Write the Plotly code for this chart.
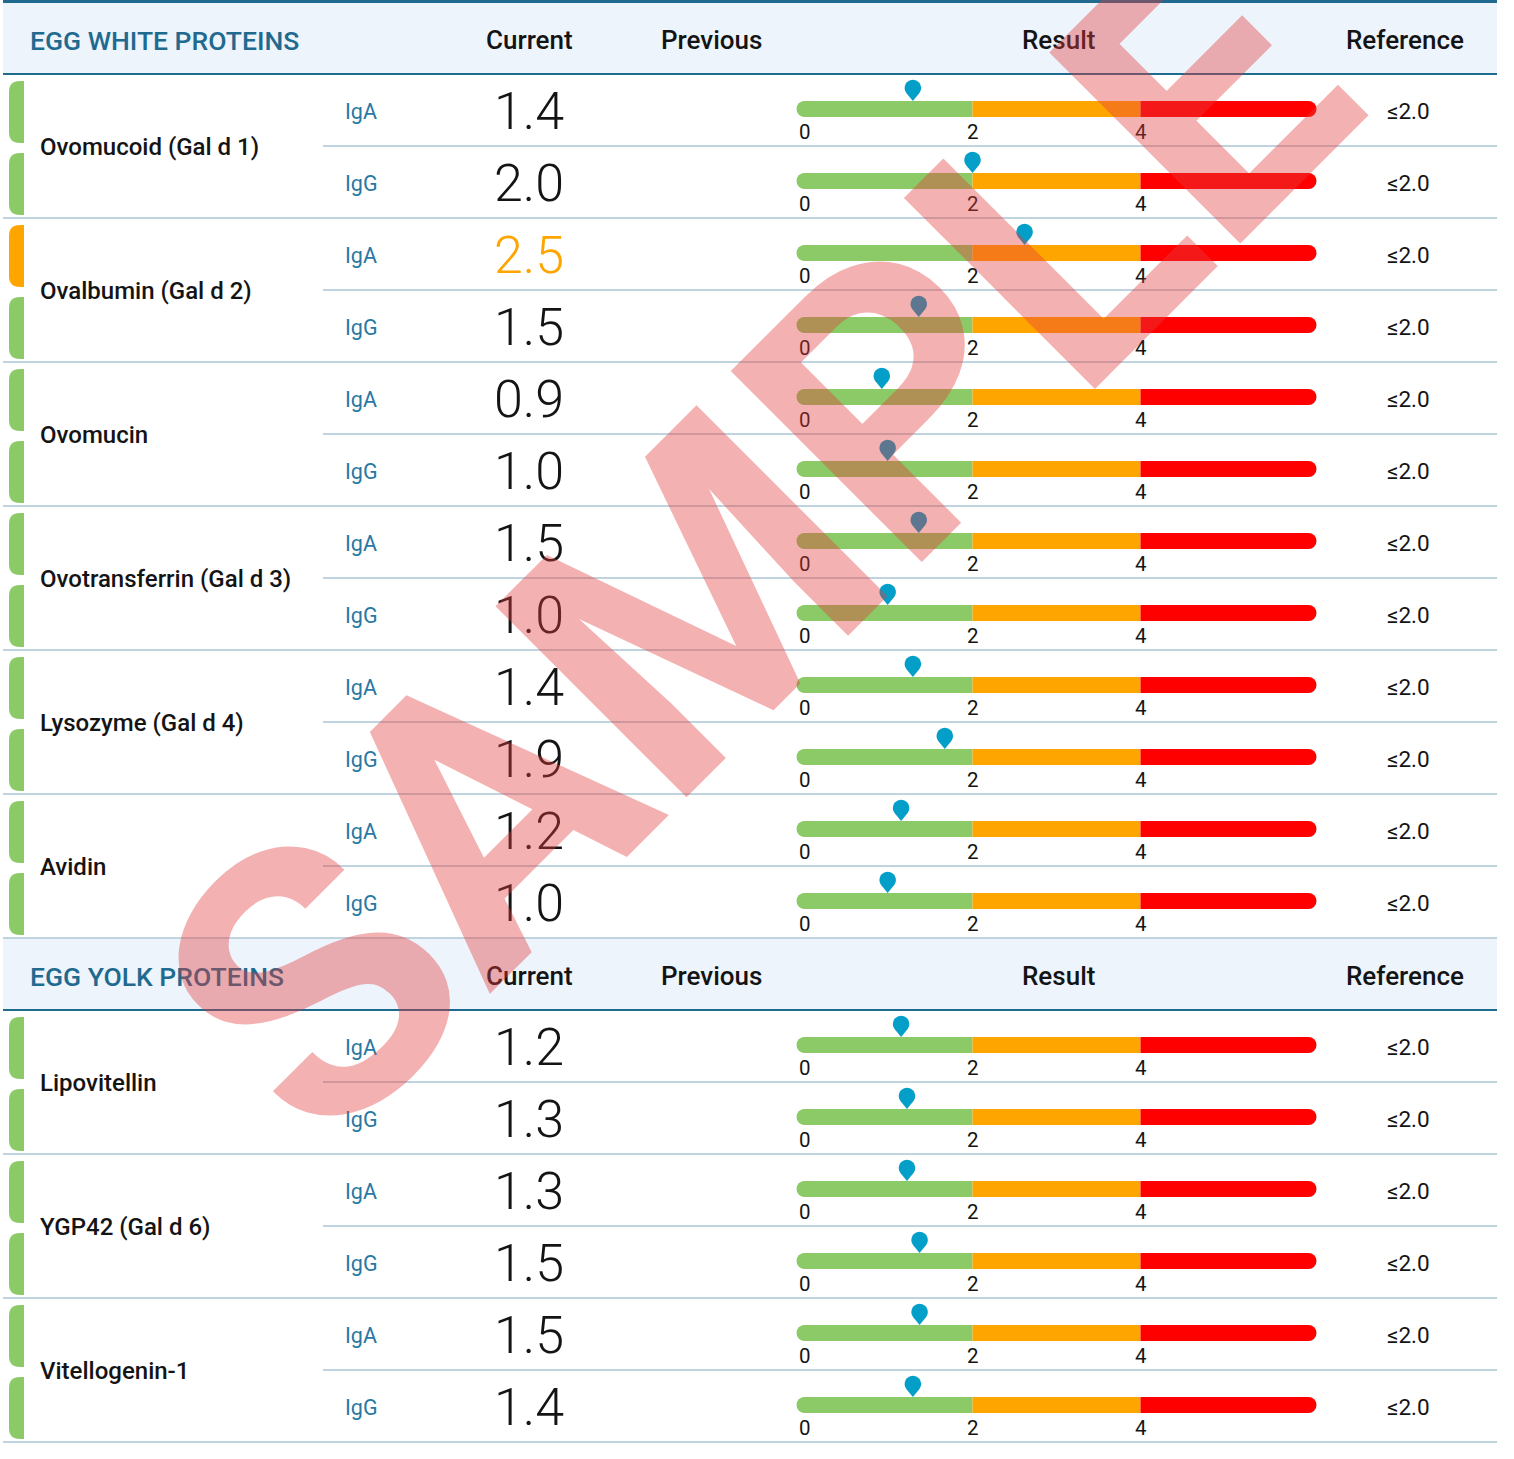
import math
import plotly.graph_objects as go

W, H = 1514, 1459

# ---------------- data ----------------
section_titles = ["EGG WHITE PROTEINS", "EGG YOLK PROTEINS"]
column_titles = ["Current", "Previous", "Result", "Reference"]
isotypes = ["IgA", "IgG"]

white_allergens = ["Ovomucoid (Gal d 1)", "Ovalbumin (Gal d 2)", "Ovomucin",
                   "Ovotransferrin (Gal d 3)", "Lysozyme (Gal d 4)", "Avidin"]
white_current = [1.4, 2.0, 2.5, 1.5, 0.9, 1.0, 1.5, 1.0, 1.4, 1.9, 1.2, 1.0]
white_marker = [1.29, 2.0, 2.62, 1.36, 0.92, 0.99, 1.36, 0.99, 1.29, 1.67, 1.15, 0.99]

yolk_allergens = ["Lipovitellin", "YGP42 (Gal d 6)", "Vitellogenin-1"]
yolk_current = [1.2, 1.3, 1.3, 1.5, 1.5, 1.4]
yolk_marker = [1.15, 1.22, 1.22, 1.37, 1.37, 1.29]

reference_limit = 2.0
band_edges = [0, 2, 4, 6]
scale_ticks = [0, 2, 4]

# ---------------- style ----------------
FONT = "Roboto"
TEAL = "#1f6a8e"
ISO_C = "#2a78a3"
HEADER_BG = "#edf4fc"
SEP = "#c0d4e0"
BAND_COLORS = ["#8cc967", "#ffa500", "#ff0000"]
PIN = "#049fc8"
GREEN = "#8cc967"
ORANGE = "#ffa500"
X_LEFT, X_RIGHT = 3, 1497
PX0, PXU = 804.5, 84.0          # pixel of result 0 and pixels per unit
ROW_H = 72
HDR_H = 70

shapes = []
annotations = []


def txt(x, y, text, size, color="#141414", weight=400, anchor="center", xref="x"):
    annotations.append(dict(x=x, y=y, xref=xref, yref="y", text=text, showarrow=False,
                            xanchor=anchor, yanchor="middle",
                            font=dict(family=FONT, size=size, color=color, weight=weight)))


def hline(y, x0, x1, color, width):
    shapes.append(dict(type="line", xref="x", yref="y", x0=x0, x1=x1, y0=y, y1=y,
                       line=dict(color=color, width=width), layer="below"))


# top dark line
shapes.append(dict(type="rect", xref="x", yref="y", x0=X_LEFT, x1=X_RIGHT, y0=0, y1=3,
                   fillcolor=TEAL, line=dict(width=0), layer="below"))

sections = [
    (section_titles[0], white_allergens, white_current, white_marker, 3),
    (section_titles[1], yolk_allergens, yolk_current, yolk_marker, 939),
]

col_x = [529, 711, 1058, 1405]

# teardrop pin polygon (pixel offsets relative to tip; y positive = up)
R_PIN, D_PIN = 8.2, 13.0
ty = R_PIN * R_PIN / D_PIN
tx = math.sqrt(R_PIN * R_PIN - ty * ty)
a0 = math.atan2(-ty, tx)
pts = ["M 0 0", f"L {tx:.2f} {D_PIN - ty:.2f}"]
n = 28
for k in range(1, n):
    ang = a0 + (math.pi - 2 * a0) * k / n
    pts.append(f"L {R_PIN*math.cos(ang):.2f} {D_PIN + R_PIN*math.sin(ang):.2f}")
pts.append(f"L {-tx:.2f} {D_PIN - ty:.2f} Z")
PIN_PATH = " ".join(pts)

pin_x, pin_y = [], []

for title, allergens, current, marker, htop in sections:
    # header
    shapes.append(dict(type="rect", xref="x", yref="y", x0=X_LEFT, x1=X_RIGHT, y0=htop,
                       y1=htop + HDR_H, fillcolor=HEADER_BG, line=dict(width=0), layer="below"))
    hline(htop + HDR_H + 1, X_LEFT, X_RIGHT, TEAL, 2)
    txt(28, htop + 37, title, 26.5, TEAL, 500, "left")
    for cx, ct in zip(col_x, column_titles):
        txt(cx, htop + 37, ct, 26, "#141414", 500)

    rows_top = htop + HDR_H + 2
    for gi, name in enumerate(allergens):
        gtop = rows_top + gi * 2 * ROW_H
        txt(38, gtop + ROW_H, name, 24, "#141414", 500, "left")
        for k, iso in enumerate(isotypes):
            idx = gi * 2 + k
            top = gtop + k * ROW_H
            val = current[idx]
            status = ORANGE if val > reference_limit else GREEN
            # status tab
            y0, y1, r = top + 6, top + 68, 11
            shapes.append(dict(type="path", xref="x", yref="y",
                               path=(f"M 24 {y0} L {9+r} {y0} Q 9 {y0} 9 {y0+r} "
                                     f"L 9 {y1-r} Q 9 {y1} {9+r} {y1} L 24 {y1} Z"),
                               fillcolor=status, line=dict(width=0), layer="below"))
            # separator
            hline(top + ROW_H - 1, X_LEFT if k == 1 else 323, X_RIGHT, SEP, 2)
            # texts
            txt(343, top + 36, iso, 21.5, ISO_C, 400, "left")
            txt(col_x[0], top + 36, f"{val:.1f}", 52,
                ORANGE if val > reference_limit else "#141414", 300)
            txt(1408, top + 36, f"\u2264{reference_limit:.1f}", 22.5, "#141414", 400)
            # result bar
            bt, bb = top + 26, top + 42
            bc = (bt + bb) / 2
            for j in range(3):
                shapes.append(dict(type="rect", xref="x2", yref="y", x0=band_edges[j],
                                   x1=band_edges[j + 1], y0=bt, y1=bb,
                                   fillcolor=BAND_COLORS[j], line=dict(width=0), layer="below"))
            for ex, col in ((band_edges[0], BAND_COLORS[0]), (band_edges[-1], BAND_COLORS[-1])):
                shapes.append(dict(type="circle", xref="x2", yref="y", xsizemode="pixel",
                                   ysizemode="pixel", xanchor=ex, yanchor=bc,
                                   x0=-8, x1=8, y0=-8, y1=8,
                                   fillcolor=col, line=dict(width=0), layer="below"))
            for t in scale_ticks:
                annotations.append(dict(x=t, y=top + 57, xref="x2", yref="y", text=str(t),
                                        showarrow=False, xanchor="center", yanchor="middle",
                                        font=dict(family=FONT, size=20.5, color="#141414")))
            # pin
            shapes.append(dict(type="path", xref="x2", yref="y", xsizemode="pixel",
                               ysizemode="pixel", xanchor=marker[idx], yanchor=bt,
                               path=PIN_PATH, fillcolor=PIN, line=dict(width=0),
                               layer="above"))
            pin_x.append(marker[idx])
            pin_y.append(bt - 12)

# watermark
annotations.append(dict(x=757, y=543, xref="x", yref="y", text="SAMPLE", showarrow=False,
                        xanchor="center", yanchor="middle", textangle=-45,
                        font=dict(family=FONT, size=380, color="rgba(228,60,60,0.4)",
                                  weight=700)))

fig = go.Figure()
fig.add_trace(go.Scatter(x=pin_x, y=pin_y, xaxis="x2", yaxis="y", mode="markers",
                         marker=dict(size=14, color="rgba(0,0,0,0)"), hoverinfo="x",
                         showlegend=False))

fig.update_layout(
    width=W, height=H, margin=dict(l=0, r=0, t=0, b=0),
    paper_bgcolor="white", plot_bgcolor="white", showlegend=False,
    xaxis=dict(range=[0, W], visible=False, fixedrange=True, domain=[0, 1]),
    xaxis2=dict(range=[-PX0 / PXU, (W - PX0) / PXU], visible=False, fixedrange=True,
                overlaying="x", anchor="y"),
    yaxis=dict(range=[H, 0], visible=False, fixedrange=True),
    shapes=shapes, annotations=annotations,
)

fig.write_html("out.html", config={"displayModeBar": False},
               post_script="document.body.style.margin='0';document.body.style.overflow='hidden';")
